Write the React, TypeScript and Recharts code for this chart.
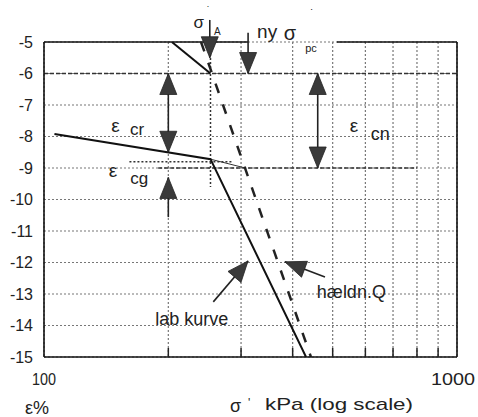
import React from 'react';
import { ComposedChart, Line, XAxis, YAxis, ReferenceLine, ReferenceDot, CartesianGrid } from 'recharts';

const FONT = '"Liberation Sans", Arial, sans-serif';

const xTicks = [100, 200, 300, 400, 500, 600, 700, 800, 900, 1000];
const xLabelled = [100, 1000];
const yTicks = [-5, -6, -7, -8, -9, -10, -11, -12, -13, -14, -15];

// lab curve (solid)
const labCurve = [
  { x: 106, y: -7.92 },
  { x: 253, y: -8.72 },
  { x: 431, y: -15 },
];
const labExtension = [
  { x: 253, y: -8.72 },
  { x: 307, y: -9.0 },
];
const upperBranch = [
  { x: 204, y: -5 },
  { x: 253, y: -6 },
];
// hældn. Q (dashed)
const slopeQ = [
  { x: 240, y: -5 },
  { x: 443, y: -15 },
];

// helper lines: [x1, y1, x2, y2]
const dashedLines = [
  [100, -6, 1000, -6],
  [189, -9, 800, -9],
];
const dottedLines = [
  [161, -8.8, 287, -8.8],
  [253, -5, 253, -9.6],
];
const topBorder = [
  [100, -5, 312, -5],
  [512, -5, 1000, -5],
];

// arrows: [x1, y1, x2(tip), y2(tip), bothEnds]
const arrows: [number, number, number, number, boolean][] = [
  [200, -8.5, 200, -6, true], // eps cr
  [200, -10.56, 200, -9.3, false], // eps cg
  [460, -9, 460, -6, true], // eps cn
  [252, -4.3, 252, -5.5, false], // sigma A
  [312, -4.71, 312, -6, false], // ny sigma pc
  [479, -12.46, 383, -11.98, false], // haeldn Q
  [257, -13.25, 312, -11.95, false], // lab kurve
];

// text annotations: [x, y, text, fontSize]
const texts: [number, number, string, number][] = [
  [149, -7.86, 'ε', 19],
  [168, -7.95, 'cr', 17],
  [147, -9.29, 'ε', 19],
  [170, -9.5, 'cg', 17],
  [563, -7.86, 'ε', 19],
  [652, -8.11, 'cn', 18],
  [237, -4.56, 'σ', 17],
  [250, -4.1, '\u02d9', 10],
  [263, -4.78, 'A', 10],
  [347, -4.87, 'ny', 19],
  [394, -4.94, 'σ', 20],
  [446, -4.2, '\u02d9', 11],
  [443, -5.33, 'pc', 11],
  [228, -13.98, 'lab kurve', 18],
  [555, -13.12, 'hældn.Q', 18],
];

const ArrowShape = (both: boolean) => (p: any) => {
  const { x1, y1, x2, y2 } = p;
  const L = 21;
  const W = 8.5;
  const head = (tx: number, ty: number, fx: number, fy: number) => {
    const dx = tx - fx;
    const dy = ty - fy;
    const len = Math.sqrt(dx * dx + dy * dy) || 1;
    const ux = dx / len;
    const uy = dy / len;
    const bx = tx - ux * L;
    const by = ty - uy * L;
    const pts = `${tx},${ty} ${bx - uy * W},${by + ux * W} ${bx + uy * W},${by - ux * W}`;
    return <polygon points={pts} fill="#3a3a3a" stroke="#222" strokeWidth={0.8} />;
  };
  return (
    <g>
      <line x1={x1} y1={y1} x2={x2} y2={y2} stroke="#222" strokeWidth={1.6} />
      {head(x2, y2, x1, y1)}
      {both ? head(x1, y1, x2, y2) : null}
    </g>
  );
};

const XTick = (props: any) => {
  const { x, y, payload } = props;
  const v = payload.value;
  const labelled = xLabelled.includes(v);
  return (
    <g>
      {!labelled && <line x1={x} x2={x} y1={y} y2={y - 9} stroke="#222" strokeWidth={1.5} />}
      {labelled && (
        <text
          x={v === 1000 ? x - 4 : x}
          y={y + 28}
          textAnchor="middle"
          fontFamily={FONT}
          fontSize={16}
          fill="#222"
          textLength={v === 1000 ? 44 : 24}
          lengthAdjust="spacingAndGlyphs"
        >
          {v}
        </text>
      )}
    </g>
  );
};

const AxisTitles = (props: any) => {
  const vb = props.viewBox || { x: 44, y: 357 };
  const bx = vb.x;
  const by = vb.y;
  return (
    <g fontFamily={FONT} fill="#222">
      <text x={bx - 19} y={by + 57} fontSize={18}>ε%</text>
      <text x={bx + 186} y={by + 55} fontSize={18}>σ</text>
      <text x={bx + 204} y={by + 50} fontSize={12}>'</text>
      <text x={bx + 221} y={by + 53} fontSize={17} textLength={148} lengthAdjust="spacingAndGlyphs">
        kPa (log scale)
      </text>
    </g>
  );
};

export default function App() {
  return (
    <div style={{ position: 'absolute', left: 0, top: 0, background: '#fff' }}>
      <ComposedChart width={478} height={417} margin={{ top: 42, right: 21, left: 0, bottom: 0 }}>
        <CartesianGrid stroke="#777" strokeDasharray="2 2" strokeWidth={1.2} />
        <XAxis
          type="number"
          dataKey="x"
          scale="log"
          domain={[100, 1000]}
          ticks={xTicks}
          allowDataOverflow
          height={60}
          tickSize={0}
          tickMargin={0}
          tickLine={false}
          tick={<XTick />}
          axisLine={{ stroke: '#111', strokeWidth: 1.6 }}
          interval={0}
          label={<AxisTitles />}
        />
        <YAxis
          type="number"
          domain={[-15, -5]}
          ticks={yTicks}
          width={44}
          tickLine={false}
          tickMargin={5}
          interval={0}
          axisLine={{ stroke: '#111', strokeWidth: 1.6 }}
          tick={{ fontFamily: FONT, fontSize: 16, fill: '#222' }}
          allowDataOverflow
        />
        <ReferenceLine x={1000} stroke="#111" strokeWidth={1.6} />
        {topBorder.map((s, i) => (
          <ReferenceLine key={'tb' + i} segment={[{ x: s[0], y: s[1] }, { x: s[2], y: s[3] }]} stroke="#111" strokeWidth={1.6} ifOverflow="visible" />
        ))}
        {dashedLines.map((s, i) => (
          <ReferenceLine key={'dl' + i} segment={[{ x: s[0], y: s[1] }, { x: s[2], y: s[3] }]} stroke="#333" strokeWidth={1.5} strokeDasharray="4 2" ifOverflow="visible" />
        ))}
        {dottedLines.map((s, i) => (
          <ReferenceLine key={'dt' + i} segment={[{ x: s[0], y: s[1] }, { x: s[2], y: s[3] }]} stroke="#333" strokeWidth={1.5} strokeDasharray="2 2" ifOverflow="visible" />
        ))}
        <Line data={labExtension} dataKey="y" stroke="#333" strokeWidth={1} dot={false} isAnimationActive={false} />
        <Line data={upperBranch} dataKey="y" stroke="#111" strokeWidth={2} dot={false} isAnimationActive={false} />
        <Line data={labCurve} dataKey="y" stroke="#111" strokeWidth={2} dot={false} isAnimationActive={false} />
        <Line data={slopeQ} dataKey="y" stroke="#222" strokeWidth={2.5} strokeDasharray="10 12" dot={false} isAnimationActive={false} />
        {arrows.map((a, i) => (
          <ReferenceLine key={'ar' + i} segment={[{ x: a[0], y: a[1] }, { x: a[2], y: a[3] }]} ifOverflow="visible" shape={ArrowShape(a[4])} />
        ))}
        {texts.map((t, i) => (
          <ReferenceDot
            key={'tx' + i}
            x={t[0]}
            y={t[1]}
            r={0}
            ifOverflow="visible"
            shape={(p: any) => (
              <text x={p.cx} y={p.cy} textAnchor="middle" fontFamily={FONT} fontSize={t[3]} fill="#222">
                {t[2]}
              </text>
            )}
          />
        ))}
      </ComposedChart>
    </div>
  );
}
